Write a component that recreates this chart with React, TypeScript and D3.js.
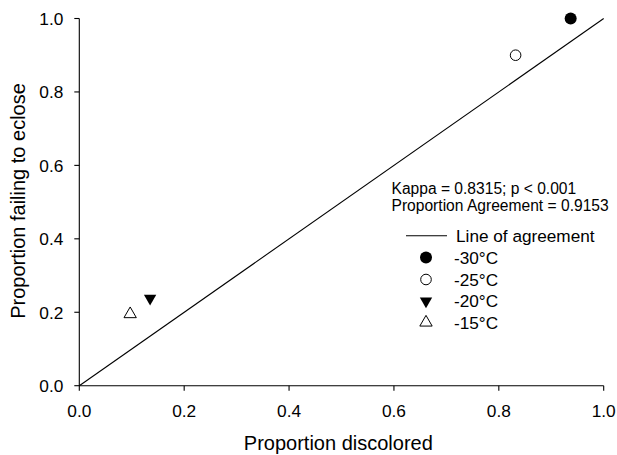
import React from "react";
import * as d3 from "d3";

const W = 617;
const H = 455;

const xTicks = [0, 0.2, 0.4, 0.6, 0.8, 1.0];
const yTicks = [0, 0.2, 0.4, 0.6, 0.8, 1.0];

const seriesNames = ["-30°C", "-25°C", "-20°C", "-15°C"];
const discolored = [0.937, 0.832, 0.135, 0.097];
const failing = [1.0, 0.9, 0.238, 0.195];
const markers = ["filledCircle", "openCircle", "filledDown", "openUp"];

const agreementLine = [0, 1];
const statsLines = ["Kappa = 0.8315; p < 0.001", "Proportion Agreement = 0.9153"];

const FONT = "Arial, 'Liberation Sans', sans-serif";

function Marker({ type, cx, cy }: { type: string; cx: number; cy: number }) {
  if (type === "filledCircle") return <circle cx={cx} cy={cy} r={6} fill="#000" />;
  if (type === "openCircle") return <circle cx={cx} cy={cy} r={5.3} fill="#fff" stroke="#000" strokeWidth={1} />;
  const s = d3.symbol().type(d3.symbolTriangle).size(66)();
  if (type === "filledDown")
    return <path d={s || ""} transform={`translate(${cx},${cy}) rotate(180)`} fill="#000" />;
  return <path d={s || ""} transform={`translate(${cx},${cy})`} fill="#fff" stroke="#000" strokeWidth={1} />;
}

export default function App() {
  const x = d3.scaleLinear().domain([0, 1]).range([79.3, 603.7]);
  const y = d3.scaleLinear().domain([0, 1]).range([385.7, 18.5]);
  const fmt = d3.format(".1f");
  const legendX = 406;
  const legendRows = [235.7, 257.5, 279.5, 301, 322.5];
  return (
    <svg width={W} height={H} style={{ position: "absolute", left: 0, top: 0, background: "#fff" }} fontFamily={FONT}>
      <rect width={W} height={H} fill="#fff" />
      {/* agreement line */}
      <line x1={x(agreementLine[0])} y1={y(agreementLine[0])} x2={x(agreementLine[1])} y2={y(agreementLine[1])} stroke="#000" strokeWidth={1.1} />
      {/* axes */}
      <line x1={x(0)} y1={y(0)} x2={x(1)} y2={y(0)} stroke="#000" strokeWidth={1.1} />
      <line x1={x(0)} y1={y(0)} x2={x(0)} y2={y(1)} stroke="#000" strokeWidth={1.1} />
      {xTicks.map((t) => (
        <g key={"xt" + t}>
          <line x1={x(t)} x2={x(t)} y1={y(0)} y2={y(0) + 5} stroke="#000" strokeWidth={1.1} />
          <text x={x(t)} y={y(0) + 31.5} textAnchor="middle" fontSize={17.3} fill="#000">{fmt(t)}</text>
        </g>
      ))}
      {yTicks.map((t) => (
        <g key={"yt" + t}>
          <line x1={x(0) - 5} x2={x(0)} y1={y(t)} y2={y(t)} stroke="#000" strokeWidth={1.1} />
          <text x={63.3} y={y(t) + 6.3} textAnchor="end" fontSize={17.3} fill="#000">{fmt(t)}</text>
        </g>
      ))}
      <text x={338.3} y={450} textAnchor="middle" fontSize={20} fill="#000">Proportion discolored</text>
      <text transform={`translate(24.5,201) rotate(-90)`} textAnchor="middle" fontSize={20} fill="#000">Proportion failing to eclose</text>
      {/* data */}
      {discolored.map((d, i) => (
        <Marker key={seriesNames[i]} type={markers[i]} cx={x(d)} cy={y(failing[i])} />
      ))}
      {/* stats */}
      {statsLines.map((s, i) => (
        <text key={s} x={391.5} y={194 + i * 16.7} fontSize={15.6} fill="#000">{s}</text>
      ))}
      {/* legend */}
      <line x1={legendX} x2={legendX + 41} y1={legendRows[0]} y2={legendRows[0]} stroke="#000" strokeWidth={1.1} />
      <text x={456} y={legendRows[0] + 6} fontSize={17.2} fill="#000">Line of agreement</text>
      {seriesNames.map((n, i) => (
        <g key={"lg" + n}>
          <Marker type={markers[i]} cx={426} cy={legendRows[i + 1]} />
          <text x={454} y={legendRows[i + 1] + 6} fontSize={17.2} fill="#000">{n}</text>
        </g>
      ))}
    </svg>
  );
}
